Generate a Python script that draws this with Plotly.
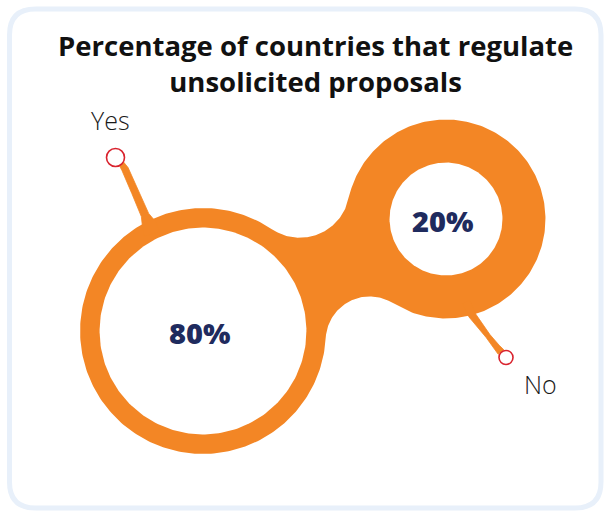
import numpy as np
import plotly.graph_objects as go

# ---- data ---------------------------------------------------------------
title_lines = ["Percentage of countries that regulate", "unsolicited proposals"]
categories = ["Yes", "No"]
values = [80, 20]

# ---- styling / layout constants -----------------------------------------
W, H = 605, 511
ORANGE = "#F38625"
NAVY = "#1F2B5E"
PIN_RED = "#D9232E"
FRAME = "#E8F0FA"
TEXT = "#1A1A1A"

# bubble centres (pixel space) and ring thickness for each category
centres = [(203.0, 331.0), (446.0, 219.0)]
ring_width = [19.5, 43.0]
# pin heads and the centre-lines of their stalks (x, y, half-width)
pins = [(115.5, 157.5), (506.0, 357.5)]
pin_size = [18, 14]
stalks = [
    [(121, 163, 2.6), (125, 169, 3.4), (135, 192, 3.5), (145, 215, 4.0), (149, 224, 7.0), (152, 234, 8.0)],
    [(466, 302, 4.0), (472, 315, 3.6), (488, 336, 2.4), (497, 347, 2.8), (501, 352, 3.6)],
]
label_pos = [(110, 120), (540, 384)]
fillet_r = [50.0, 44.0]  # top / bottom neck fillets


def hole_radius(v):
    """Radius of the white disc, growing with the square root of the share."""
    return 9.5 + 10.5 * np.sqrt(v)


def ang(v):
    return np.arctan2(v[1], v[0])


def wrap(a):
    return (a + np.pi) % (2 * np.pi) - np.pi


def arc(c, r, a0, a1, n=120):
    t = np.linspace(a0, a1, n)
    return np.column_stack([c[0] + r * np.cos(t), c[1] + r * np.sin(t)])


def circle_pts(c, r, n=240):
    return arc(c, r, 0, 2 * np.pi, n)


def fillet_centre(c1, r1, c2, r2, rf, side):
    d = np.linalg.norm(c2 - c1)
    u = (c2 - c1) / d
    nrm = np.array([u[1], -u[0]])
    a = (d ** 2 + (r1 + rf) ** 2 - (r2 + rf) ** 2) / (2 * d)
    h = np.sqrt((r1 + rf) ** 2 - a ** 2)
    return c1 + a * u + side * h * nrm


def far_arc(c, r, p_from, p_to, toward):
    """Arc of circle (c, r) from p_from to p_to passing away from 'toward'."""
    th = ang(toward - c)
    p0 = wrap(ang(p_from - c) - th)
    p1 = wrap(ang(p_to - c) - th)
    end = p1 + 2 * np.pi if p0 > 0 else p1 - 2 * np.pi
    return arc(c, r, th + p0, th + end, 240)


def near_arc(c, r, p_from, p_to):
    a0 = ang(p_from - c)
    a1 = ang(p_to - c)
    return arc(c, r, a0, a0 + wrap(a1 - a0), 80)


# ---- geometry of the joined bubbles ------------------------------------
holes = [hole_radius(v) for v in values]
outer = [h + w for h, w in zip(holes, ring_width)]
c1, c2 = np.array(centres[0]), np.array(centres[1])
r1, r2 = outer

p_top = fillet_centre(c1, r1, c2, r2, fillet_r[0], +1)
p_bot = fillet_centre(c1, r1, c2, r2, fillet_r[1], -1)
t1_top = c1 + r1 * (p_top - c1) / np.linalg.norm(p_top - c1)
t1_bot = c1 + r1 * (p_bot - c1) / np.linalg.norm(p_bot - c1)
t2_top = c2 + r2 * (p_top - c2) / np.linalg.norm(p_top - c2)
t2_bot = c2 + r2 * (p_bot - c2) / np.linalg.norm(p_bot - c2)

outline = np.vstack([
    far_arc(c1, r1, t1_top, t1_bot, c2),
    near_arc(p_bot, fillet_r[1], t1_bot, t2_bot),
    far_arc(c2, r2, t2_bot, t2_top, c1),
    near_arc(p_top, fillet_r[0], t2_top, t1_top),
])


def stalk_polygon(pts):
    pts = np.array(pts, float)
    xy, hw = pts[:, :2], pts[:, 2]
    tang = np.gradient(xy, axis=0)
    tang /= np.linalg.norm(tang, axis=1)[:, None]
    nrm = np.column_stack([-tang[:, 1], tang[:, 0]])
    left = xy + nrm * hw[:, None]
    right = xy - nrm * hw[:, None]
    return np.vstack([left, right[::-1]])


fig = go.Figure()

# orange body
fig.add_trace(go.Scatter(x=outline[:, 0], y=outline[:, 1], mode="lines", fill="toself",
                         fillcolor=ORANGE, line=dict(width=0, color=ORANGE), hoverinfo="skip"))
# stalks
for s in stalks:
    poly = stalk_polygon(s)
    fig.add_trace(go.Scatter(x=poly[:, 0], y=poly[:, 1], mode="lines", fill="toself",
                             fillcolor=ORANGE, line=dict(width=0.8, color=ORANGE), hoverinfo="skip"))
# white holes
for c, r, cat, v in zip(centres, holes, categories, values):
    pts = circle_pts(c, r)
    fig.add_trace(go.Scatter(x=pts[:, 0], y=pts[:, 1], mode="lines", fill="toself",
                             fillcolor="white", line=dict(width=0, color="white"),
                             name=cat, hovertext=f"{cat}: {v}%", hoverinfo="text"))
# pin heads
fig.add_trace(go.Scatter(x=[p[0] for p in pins], y=[p[1] for p in pins], mode="markers",
                         marker=dict(size=pin_size, color="white", opacity=1,
                                     line=dict(color=PIN_RED, width=1.6)),
                         hoverinfo="skip"))

annotations = []
# percentage labels inside holes
for c, v in zip(centres, values):
    annotations.append(dict(x=c[0] - 4, y=c[1] + 1, text=f"{v}%", showarrow=False,
                            font=dict(family="Open Sans", size=29, color=NAVY, weight=800),
                            xanchor="center", yanchor="middle"))
# category labels next to the pins
for (lx, ly), cat in zip(label_pos, categories):
    annotations.append(dict(x=lx, y=ly, text=cat, showarrow=False,
                            font=dict(family="Open Sans", size=25, color=TEXT, weight=300),
                            xanchor="center", yanchor="middle"))
# title (two centred lines)
annotations.append(dict(x=315.5, y=63, text="<br>".join(title_lines), showarrow=False,
                        font=dict(family="Open Sans", size=27.5, color="#111111", weight=700),
                        xanchor="center", yanchor="middle", align="center"))

# rounded frame
x0, y0, x1, y1, rr = 9.5, 9.0, 601.0, 508.0, 26.0
frame_path = (f"M {x0 + rr},{y0} L {x1 - rr},{y0} Q {x1},{y0} {x1},{y0 + rr} "
              f"L {x1},{y1 - rr} Q {x1},{y1} {x1 - rr},{y1} L {x0 + rr},{y1} "
              f"Q {x0},{y1} {x0},{y1 - rr} L {x0},{y0 + rr} Q {x0},{y0} {x0 + rr},{y0} Z")

fig.update_layout(
    width=W, height=H,
    margin=dict(l=0, r=0, t=0, b=0),
    paper_bgcolor="white", plot_bgcolor="white",
    showlegend=False,
    xaxis=dict(range=[0, W], visible=False, fixedrange=True),
    yaxis=dict(range=[H, 0], visible=False, fixedrange=True),
    shapes=[dict(type="path", path=frame_path, xref="x", yref="y",
                 line=dict(color=FRAME, width=5), layer="below")],
    annotations=annotations,
)

fig.write_html("out.html")
